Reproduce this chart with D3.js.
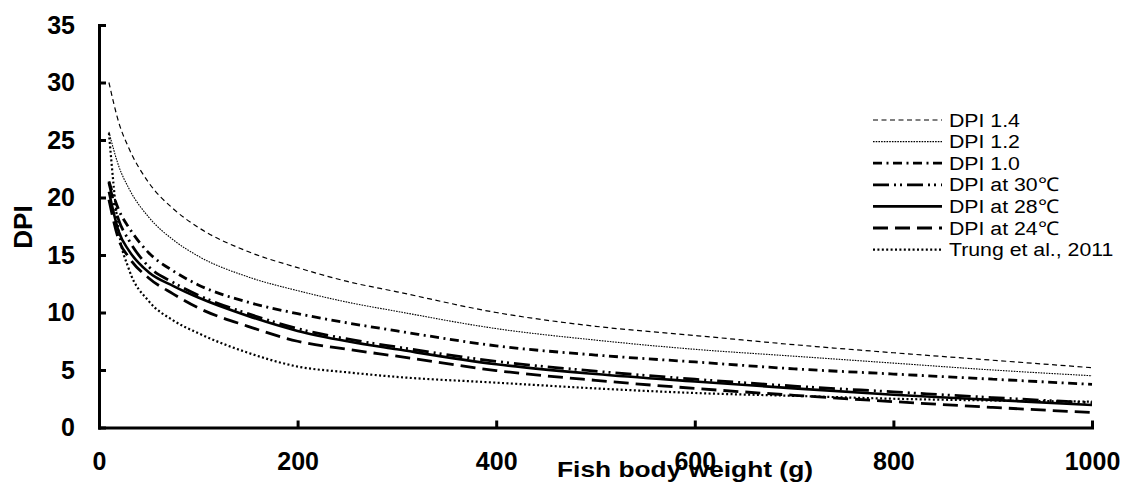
<!DOCTYPE html>
<html><head><meta charset="utf-8">
<script src="https://cdn.jsdelivr.net/npm/d3@7"></script>
<style>
html,body{margin:0;padding:0;background:#fff;}
svg{display:block;font-family:"Liberation Sans",Arial,sans-serif;}
</style></head>
<body>
<svg id="chart" width="1122" height="493"></svg>
<script>
const weights = [10,20,30,50,75,100,150,200,250,300,400,500,600,700,800,900,1000];
const dpi14 = [30.0,26.5,24.3,21.3,19.0,17.4,15.3,13.9,12.7,11.8,10.0,8.8,8.0,7.2,6.5,5.85,5.2];
const dpi12 = [25.7,22.7,20.8,18.3,16.3,14.9,13.1,11.9,10.9,10.1,8.6,7.6,6.8,6.2,5.6,5.0,4.5];
const dpi10 = [21.4,18.9,17.4,15.2,13.6,12.4,10.9,9.9,9.1,8.4,7.1,6.3,5.7,5.1,4.65,4.2,3.75];
const dpi30 = [21.3,18.0,16.3,14.0,12.6,11.5,9.9,8.6,7.7,7.0,5.75,4.9,4.2,3.6,3.1,2.6,2.15];
const dpi28 = [20.5,17.0,15.4,13.5,12.3,11.3,9.7,8.4,7.5,6.8,5.5,4.65,4.0,3.4,2.85,2.4,1.95];
const dpi24 = [19.8,16.3,14.8,13.0,11.6,10.4,8.8,7.5,6.8,6.2,4.95,4.1,3.4,2.8,2.25,1.75,1.3];
const trung = [25.6,17.0,13.8,11.0,9.3,8.2,6.5,5.3,4.8,4.4,3.9,3.4,3.0,2.75,2.5,2.35,2.25];
const seriesNames = ["DPI 1.4","DPI 1.2","DPI 1.0","DPI at 30\u2103","DPI at 28\u2103","DPI at 24\u2103","Trung et al., 2011"];
const seriesValues = [dpi14,dpi12,dpi10,dpi30,dpi28,dpi24,trung];
const yTicks = [0,5,10,15,20,25,30,35];
const xTicks = [0,200,400,600,800,1000];
const xTitle = "Fish body weight (g)";
const yTitle = "DPI";

const styles = [
  {w:1.2, dash:"5,3.5", cap:"butt"},
  {w:1.1, dash:"1.6,1.1", cap:"butt"},
  {w:2.8, dash:"9,4.5,2,4.5", cap:"butt"},
  {w:2.8, dash:"16,5,2,4,2,5", cap:"butt"},
  {w:2.6, dash:null, cap:"butt"},
  {w:2.8, dash:"15,7", cap:"butt"},
  {w:2.2, dash:"2,2.4", cap:"butt"}
];

const svg = d3.select("#chart");
const x = d3.scaleLinear().domain([0,1000]).range([99,1092]);
const y = d3.scaleLinear().domain([0,35]).range([427.5,25]);

// axes
const yAxis = svg.append("g").attr("transform",`translate(${x(0)},0)`)
  .call(d3.axisLeft(y).tickValues(yTicks).tickSize(-7).tickSizeOuter(0).tickPadding(24).tickFormat(d3.format("d")));
const xAxis = svg.append("g").attr("transform",`translate(0,${y(0)})`)
  .call(d3.axisBottom(x).tickValues(xTicks).tickSize(-7).tickSizeOuter(0).tickPadding(24.5).tickFormat(d3.format("d")));
[yAxis,xAxis].forEach(g=>{
  g.select(".domain").attr("stroke","#000").attr("stroke-width",3).attr("stroke-linecap","square");
  g.selectAll(".tick line").attr("stroke","#000").attr("stroke-width",3);
  g.selectAll(".tick text").attr("fill","#000").style("font-size","25px").style("font-weight","bold")
    .style("font-family",'"Liberation Sans",Arial,sans-serif');
});

// lines
const line = d3.line().x((d,i)=>x(weights[i])).y(d=>y(d)).curve(d3.curveMonotoneX);
const plot = svg.append("g");
seriesValues.forEach((vals,i)=>{
  const p = plot.append("path").datum(vals).attr("d",line)
    .attr("fill","none").attr("stroke","#000").attr("stroke-width",styles[i].w)
    .attr("stroke-linecap",styles[i].cap);
  if(styles[i].dash) p.attr("stroke-dasharray",styles[i].dash);
});

// legend
const leg = svg.append("g");
seriesNames.forEach((name,i)=>{
  const yy = 120 + i*21.6;
  const l = leg.append("line").attr("x1",873).attr("x2",942).attr("y1",yy).attr("y2",yy)
    .attr("stroke","#000").attr("stroke-width",styles[i].w);
  if(styles[i].dash) l.attr("stroke-dasharray",styles[i].dash);
  leg.append("text").attr("transform",`translate(949,${yy}) scale(1.12,1)`)
    .attr("dy","0.35em").style("font-size","19px").attr("fill","#000").text(name);
});

// titles
svg.append("text").attr("x",557).attr("y",477).attr("textLength",256).attr("lengthAdjust","spacingAndGlyphs")
  .style("font-size","22px").style("font-weight","bold").attr("fill","#000").text(xTitle);
svg.append("text").attr("transform","translate(32,227) rotate(-90)").attr("text-anchor","middle")
  .style("font-size","26px").style("font-weight","bold").attr("fill","#000").text(yTitle);
</script>
</body></html>
